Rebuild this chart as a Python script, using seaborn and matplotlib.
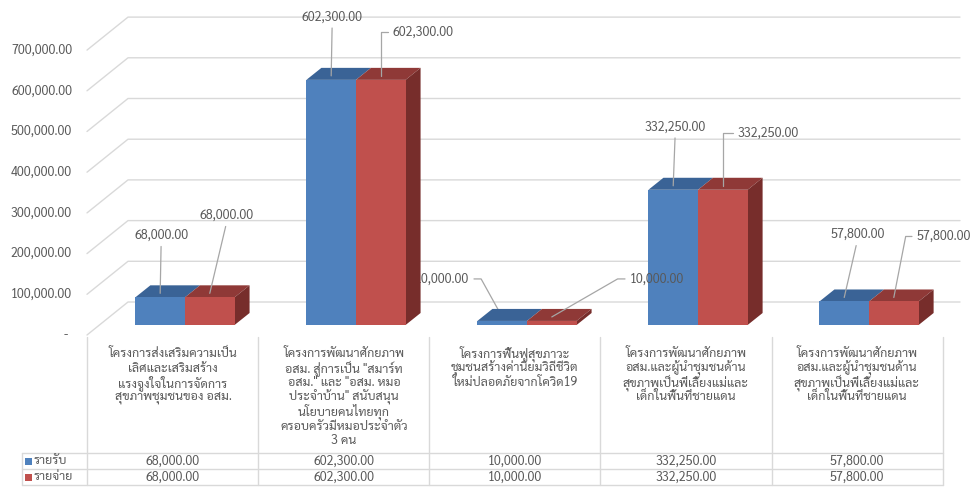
import matplotlib
matplotlib.use("Agg")
import pandas as pd
import matplotlib.pyplot as plt
import seaborn as sns
from matplotlib import font_manager
from matplotlib.colors import to_hex
from matplotlib.lines import Line2D
from matplotlib.patches import Polygon, Rectangle
from matplotlib.transforms import IdentityTransform

# data
categories = [
    "โครงการส่งเสริมความเป็น\nเลิศและเสริมสร้าง\nแรงจูงใจในการจัดการ\nสุขภาพชุมชนของ อสม.",
    "โครงการพัฒนาศักยภาพ\nอสม. สู่การเป็น \"สมาร์ท\nอสม.\" และ \"อสม. หมอ\nประจำบ้าน\" สนับสนุน\nนโยบายคนไทยทุก\nครอบครัวมีหมอประจำตัว\n3 คน",
    "โครงการฟื้นฟูสุขภาวะ\nชุมชนสร้างค่านิยมวิถีชีวิต\nใหม่ปลอดภัยจากโควิด19",
    "โครงการพัฒนาศักยภาพ\nอสม.และผู้นำชุมชนด้าน\nสุขภาพเป็นพี่เลี้ยงแม่และ\nเด็กในพื้นที่ชายแดน",
    "โครงการพัฒนาศักยภาพ\nอสม.และผู้นำชุมชนด้าน\nสุขภาพเป็นพี่เลี้ยงแม่และ\nเด็กในพื้นที่ชายแดน",
]
series = ["รายรับ", "รายจ่าย"]
income = [68000, 602300, 10000, 332250, 57800]
expense = [68000, 602300, 10000, 332250, 57800]
y_ticks = [0, 100000, 200000, 300000, 400000, 500000, 600000, 700000]
y_tick_labels = ["-", "100,000.00", "200,000.00", "300,000.00", "400,000.00",
                 "500,000.00", "600,000.00", "700,000.00"]

# two projects share the same name, so key the bars by position
keys = [f"p{i}" for i in range(len(categories))]
df = pd.DataFrame({
    "project": keys * 2,
    "series": [series[0]] * len(keys) + [series[1]] * len(keys),
    "value": income + expense,
})

sns.set_theme(style="white")
installed = {f.name for f in font_manager.fontManager.ttflist}
thai_font = next((f for f in ["Sarabun", "Noto Sans Thai Looped", "Noto Sans Thai",
                              "IBM Plex Sans Thai Looped", "Anuphan", "Bai Jamjuree"]
                  if f in installed), "DejaVu Sans")
plt.rcParams["font.family"] = [thai_font, "DejaVu Sans"]

TEXT = "#595959"
GRID = "#d9d9d9"
LEADER = "#a6a6a6"
BLUE, RED = "#4f81bd", "#c0504d"
BLUE_TOP, RED_TOP, RED_SIDE = "#3a6396", "#8f3937", "#772d2b"
FS = 9

W, H = 980, 492
fig = plt.figure(figsize=(W / 100, H / 100), dpi=100)
ax = fig.add_axes([88 / W, (H - 335) / H, (960 - 88) / W, 335 / H])

sns.barplot(data=df, x="project", y="value", hue="series", order=keys, palette=[BLUE, RED],
            width=0.58, saturation=1, linewidth=0, legend=False, ax=ax, zorder=3)
ax.set_xlim(-0.567, 4.532)
ax.set_ylim(-24570, 798526)
ax.axis("off")

ID = IdentityTransform()
BAR_DX, BAR_DY = 15, 12      # bar depth in pixels
WALL_DX, WALL_DY = 41, 33    # floor depth in pixels
FRONT_DROP = 10              # front edge lies below bar fronts


def to_px(x, y):
    return ax.transData.transform((x, y))


# walls / gridlines
left_px = to_px(-0.567, 0)[0] - 1
for v, lab in zip(y_ticks, y_tick_labels):
    yf = to_px(0, v)[1] - FRONT_DROP
    ax.add_artist(Line2D([left_px, left_px + WALL_DX, 960], [yf, yf + WALL_DY, yf + WALL_DY],
                         transform=ID, color=GRID, lw=1, zorder=1, clip_on=False))
    ax.text(72 if v else 68, yf, lab, transform=ID, ha="right", va="center", fontsize=FS,
            color=TEXT, clip_on=False)

# 3d faces and data labels
label_style = {
    (0, 0): (1, 58, (0.5, 0), "arc3"),
    (1, 0): (17, 78, (0.5, 0), "arc3"),
    (0, 1): (1, 59, (0.5, 0), "arc3"),
    (1, 1): (42, 44, (0, 0.5), "angle,angleA=0,angleB=90,rad=0"),
    (0, 2): (-60, 38, (1, 0.5), "angle,angleA=0,angleB=119,rad=0"),
    (1, 2): (105, 38, (0, 0.5), "angle,angleA=0,angleB=30,rad=0"),
    (0, 3): (2, 59, (0.5, 0), "arc3"),
    (1, 3): (45, 53, (0, 0.5), "angle,angleA=0,angleB=90,rad=0"),
    (0, 4): (13, 63, (0.5, 0), "arc3"),
    (1, 4): (50, 61, (0, 0.5), "angle,angleA=0,angleB=79,rad=0"),
}
bar_centers = []
for p in ax.patches:
    x0, y0 = to_px(p.get_x(), p.get_y())
    x1, y1 = to_px(p.get_x() + p.get_width(), p.get_y() + p.get_height())
    s = 0 if to_hex(p.get_facecolor()) == BLUE else 1
    cat = int(round(p.get_x() + p.get_width() / 2))
    top_c = BLUE_TOP if s == 0 else RED_TOP
    ax.add_artist(Polygon([(x0, y1), (x1, y1), (x1 + BAR_DX, y1 + BAR_DY), (x0 + BAR_DX, y1 + BAR_DY)],
                          closed=True, transform=ID, facecolor=top_c, lw=0, zorder=2.5, clip_on=False))
    if s == 1:
        ax.add_artist(Polygon([(x1, y0), (x1 + BAR_DX, y0 + BAR_DY), (x1 + BAR_DX, y1 + BAR_DY), (x1, y1)],
                              closed=True, transform=ID, facecolor=RED_SIDE, lw=0, zorder=2.5, clip_on=False))
    cx = (x0 + x1) / 2
    ox, oy, rel, conn = label_style[(s, cat)]
    ax.annotate(f"{p.get_height():,.2f}", xy=(cx, y1 + 4), xycoords="figure pixels",
                xytext=(ox, oy), textcoords="offset pixels", ha="center", va="center",
                fontsize=FS, color=TEXT, zorder=2 if (s, cat) == (0, 2) else 4,
                annotation_clip=False,
                arrowprops=dict(arrowstyle="-", color=LEADER, lw=0.9, shrinkA=1, shrinkB=0,
                                relpos=rel, connectionstyle=conn))
    if s == 0:
        bar_centers.append(x1)

# data table under the chart
step = to_px(1, 0)[0] - to_px(0, 0)[0]
centers = [c - 12 for c in sorted(bar_centers)]
bounds = [centers[0] - step / 2] + [c + step / 2 for c in centers]
row_lines = [H - 453, H - 469, H - 485]
top_y = H - 337
for b in bounds:
    fig.add_artist(Line2D([b, b], [top_y, row_lines[-1]], transform=ID, color=GRID, lw=1))
fig.add_artist(Line2D([22, 22], [row_lines[0], row_lines[-1]], transform=ID, color=GRID, lw=1))
for y in row_lines:
    fig.add_artist(Line2D([22, bounds[-1]], [y, y], transform=ID, color=GRID, lw=1))

LINE_STEP = 14.5
for c, lab in zip(centers, categories):
    for k, line in enumerate(lab.split("\n")):
        fig.text(c / W, (H - 352 - k * LINE_STEP) / H, line, ha="center", va="center_baseline",
                 fontsize=FS, color=TEXT)

for r, (name, vals, col) in enumerate(zip(series, [income, expense], [BLUE, RED])):
    yc = (row_lines[r] + row_lines[r + 1]) / 2
    fig.add_artist(Rectangle((25, yc - 3.5), 7, 7, transform=ID, facecolor=col, lw=0))
    fig.text(34 / W, yc / H, name, ha="left", va="center", fontsize=FS, color=TEXT)
    for c, v in zip(centers, vals):
        fig.text(c / W, yc / H, f"{v:,.2f}", ha="center", va="center", fontsize=FS, color=TEXT)

fig.savefig("out.png", dpi=100)
